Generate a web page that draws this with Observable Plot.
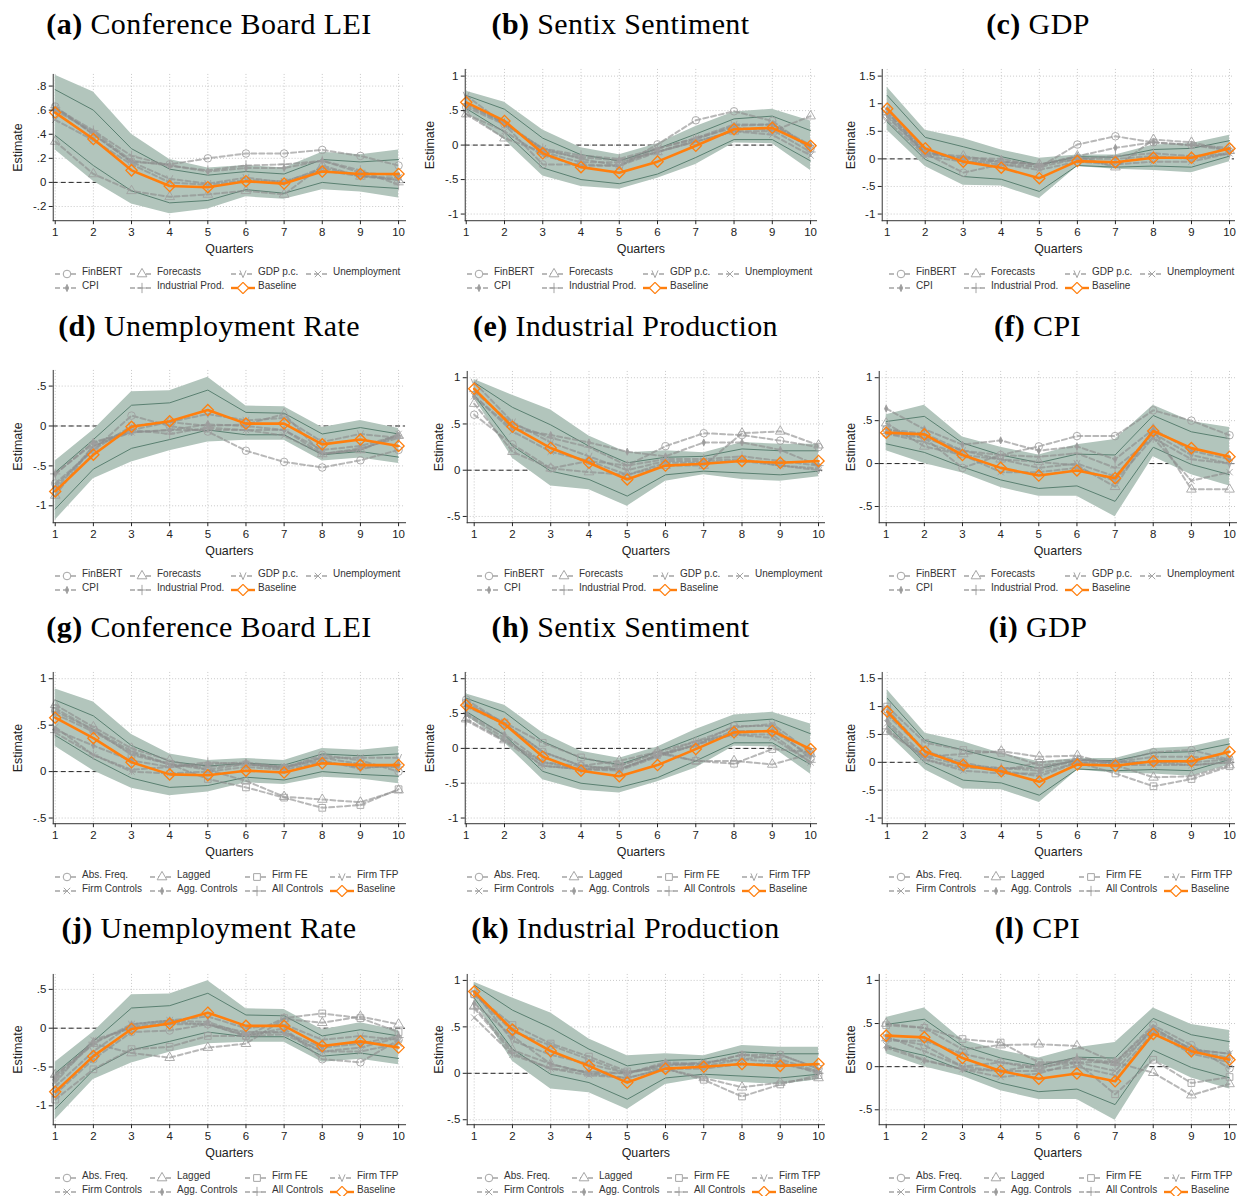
<!DOCTYPE html>
<html><head><meta charset="utf-8">
<script src="https://cdn.jsdelivr.net/npm/d3@7"></script>
<script src="https://cdn.jsdelivr.net/npm/@observablehq/plot@0.6"></script>
<style>
body{margin:0;background:#fff;}
#root{position:relative;width:1238px;height:1196px;overflow:hidden;font-family:"Liberation Sans",Arial,sans-serif;background:#fff;}
.panel{position:absolute;width:412px;height:300px;}
.title{position:absolute;top:8px;white-space:nowrap;font-family:"Liberation Serif","Times New Roman",serif;font-size:30px;letter-spacing:0.4px;line-height:31px;color:#000;transform:translateX(-50%);}
.plotwrap{position:absolute;left:0;top:60px;}
.plotwrap svg{overflow:visible;}
.legsw{position:absolute;width:24px;height:12px;}
.legtx{position:absolute;font-size:10px;line-height:12px;color:#333;white-space:nowrap;}
</style></head><body><div id="root"></div><script>
// ---------- data ----------
const quarters = [1,2,3,4,5,6,7,8,9,10];
const shockNames = ["Conference Board LEI","Sentix Sentiment","GDP","Unemployment Rate","Industrial Production","CPI"];
const panelLetters = ["a","b","c","d","e","f","g","h","i","j","k","l"];
const setA = ["FinBERT","Forecasts","GDP p.c.","Unemployment","CPI","Industrial Prod."];
const setB = ["Abs. Freq.","Lagged","Firm FE","Firm TFP","Firm Controls","Agg. Controls","All Controls"];

const yTicksLEI = [-0.2,0,0.2,0.4,0.6,0.8];
const yTicksWide = [-1,-0.5,0,0.5,1];
const yTicksGDP = [-1,-0.5,0,0.5,1,1.5];
const yTicksUnemp = [-1,-0.5,0,0.5];
const yTicksHalf = [-0.5,0,0.5,1];

// baseline estimates and confidence bands (95% shaded, 90% lines)
const leiBase = [0.58,0.36,0.10,-0.03,-0.04,0.01,-0.01,0.09,0.07,0.07];
const leiHi95 = [0.89,0.75,0.40,0.19,0.12,0.14,0.12,0.25,0.23,0.27];
const leiLo95 = [0.27,0.01,-0.18,-0.26,-0.22,-0.12,-0.14,-0.06,-0.08,-0.13];
const leiHi90 = [0.77,0.60,0.28,0.11,0.06,0.09,0.07,0.19,0.17,0.19];
const leiLo90 = [0.39,0.14,-0.07,-0.17,-0.15,-0.06,-0.09,0.00,-0.03,-0.05];

const sentixBase = [0.62,0.35,-0.12,-0.32,-0.40,-0.24,-0.01,0.23,0.25,-0.01];
const sentixHi95 = [0.78,0.62,0.22,-0.04,-0.14,0.02,0.27,0.48,0.52,0.35];
const sentixLo95 = [0.47,0.08,-0.45,-0.60,-0.64,-0.48,-0.28,0.03,0.02,-0.37];
const sentixHi90 = [0.72,0.52,0.10,-0.14,-0.23,-0.05,0.16,0.38,0.42,0.21];
const sentixLo90 = [0.53,0.19,-0.33,-0.50,-0.56,-0.42,-0.18,0.08,0.08,-0.23];

const gdpBase = [0.91,0.19,-0.05,-0.16,-0.35,-0.04,-0.06,0.02,0.02,0.19];
const gdpHi95 = [1.30,0.52,0.37,0.16,0.01,0.07,0.07,0.25,0.28,0.43];
const gdpLo95 = [0.52,-0.14,-0.48,-0.49,-0.72,-0.14,-0.19,-0.21,-0.25,-0.05];
const gdpHi90 = [1.15,0.39,0.22,0.04,-0.11,0.04,0.03,0.17,0.19,0.33];
const gdpLo90 = [0.67,-0.01,-0.32,-0.37,-0.59,-0.12,-0.15,-0.13,-0.15,0.05];

const unempBase = [-0.82,-0.36,-0.01,0.06,0.20,0.03,0.03,-0.23,-0.17,-0.25];
const unempHi95 = [-0.44,-0.05,0.43,0.44,0.61,0.25,0.24,-0.02,0.07,-0.03];
const unempLo95 = [-1.18,-0.66,-0.45,-0.31,-0.20,-0.18,-0.18,-0.44,-0.40,-0.47];
const unempHi90 = [-0.58,-0.17,0.26,0.29,0.45,0.17,0.16,-0.10,-0.02,-0.10];
const unempLo90 = [-1.04,-0.54,-0.28,-0.17,-0.05,-0.11,-0.11,-0.36,-0.32,-0.39];

const ipBase = [0.88,0.47,0.24,0.08,-0.10,0.05,0.07,0.10,0.08,0.10];
const ipHi95 = [0.98,0.81,0.65,0.37,0.19,0.21,0.19,0.30,0.28,0.28];
const ipLo95 = [0.78,0.13,-0.17,-0.21,-0.39,-0.12,-0.05,-0.10,-0.12,-0.07];
const ipHi90 = [0.95,0.68,0.49,0.26,0.08,0.14,0.15,0.23,0.21,0.21];
const ipLo90 = [0.81,0.26,-0.01,-0.10,-0.28,-0.05,-0.01,-0.03,-0.05,-0.01];

const cpiBase = [0.36,0.34,0.10,-0.05,-0.14,-0.08,-0.17,0.38,0.18,0.08];
const cpiHi95 = [0.57,0.68,0.31,0.19,0.10,0.22,0.28,0.68,0.49,0.42];
const cpiLo95 = [0.15,0.00,-0.11,-0.28,-0.38,-0.38,-0.62,0.08,-0.13,-0.26];
const cpiHi90 = [0.49,0.55,0.24,0.10,0.01,0.11,0.10,0.56,0.37,0.29];
const cpiLo90 = [0.23,0.13,-0.04,-0.19,-0.29,-0.26,-0.44,0.19,-0.01,-0.13];

// robustness set A: FinBERT, Forecasts, GDP p.c., Unemployment, CPI, Industrial Prod.
const robLEI_A = [
 [0.63,0.40,0.17,0.15,0.20,0.24,0.24,0.27,0.22,0.14],
 [0.34,0.07,-0.07,-0.12,-0.10,-0.07,-0.10,0.14,0.05,0.02],
 [0.62,0.40,0.17,0.03,-0.01,0.04,0.00,0.12,0.06,0.02],
 [0.52,0.35,0.15,0.00,-0.02,0.02,0.01,0.10,0.05,0.04],
 [0.60,0.42,0.18,0.14,0.09,0.12,0.12,0.18,0.08,0.06],
 [0.62,0.43,0.22,0.14,0.10,0.14,0.15,0.18,0.10,-0.02]];
const robSentix_A = [
 [0.55,0.30,-0.28,-0.28,-0.30,0.01,0.36,0.49,0.35,-0.05],
 [0.45,0.10,-0.10,-0.25,-0.25,-0.10,0.05,0.20,0.20,0.42],
 [0.72,0.30,-0.05,-0.20,-0.30,-0.05,0.10,0.30,0.30,-0.05],
 [0.45,0.20,-0.15,-0.30,-0.30,-0.10,0.05,0.20,0.15,-0.15],
 [0.58,0.32,-0.08,-0.18,-0.22,-0.10,0.08,0.28,0.30,0.00],
 [0.60,0.32,-0.05,-0.15,-0.20,-0.05,0.10,0.25,0.22,-0.10]];
const robGDP_A = [
 [0.76,0.10,-0.25,-0.10,-0.15,0.26,0.41,0.30,0.25,0.20],
 [0.85,0.10,0.05,-0.05,-0.10,0.05,-0.15,0.35,0.30,0.15],
 [0.90,0.15,-0.05,-0.05,-0.15,0.00,0.00,0.05,0.00,0.10],
 [0.70,0.05,-0.05,-0.10,-0.20,-0.05,-0.10,-0.05,-0.05,0.10],
 [0.80,0.08,0.02,0.00,-0.12,0.05,0.20,0.30,0.25,0.15],
 [0.85,0.12,0.00,-0.05,-0.10,0.00,0.05,0.10,0.05,0.10]];
const robUnemp_A = [
 [-0.72,-0.30,0.13,0.00,-0.07,-0.31,-0.45,-0.52,-0.43,-0.30],
 [-0.87,-0.25,-0.05,0.05,0.00,0.02,0.15,-0.35,-0.30,-0.12],
 [-0.75,-0.30,0.00,0.05,0.15,0.07,0.10,-0.20,-0.10,-0.15],
 [-0.80,-0.25,-0.08,-0.05,-0.05,-0.05,-0.12,-0.35,-0.30,-0.10],
 [-0.60,-0.20,-0.08,-0.05,0.02,0.00,-0.05,-0.30,-0.25,-0.12],
 [-0.60,-0.22,-0.05,-0.10,-0.02,-0.05,-0.05,-0.35,-0.28,-0.15]];
const robIP_A = [
 [0.60,0.28,0.02,0.10,0.05,0.26,0.40,0.38,0.32,0.25],
 [0.72,0.20,0.02,-0.02,-0.05,0.05,0.05,0.40,0.42,0.27],
 [0.95,0.52,0.30,0.15,0.00,0.10,0.10,0.12,0.05,0.00],
 [0.80,0.42,0.20,0.10,-0.05,0.08,0.08,0.10,0.05,0.02],
 [0.80,0.45,0.38,0.30,0.20,0.15,0.30,0.30,0.22,0.05],
 [0.85,0.50,0.35,0.25,0.05,0.12,0.12,0.15,0.10,0.05]];
const robCPI_A = [
 [0.40,0.30,-0.05,0.10,0.20,0.32,0.32,0.62,0.50,0.33],
 [0.47,0.20,0.10,0.05,0.02,-0.02,-0.27,0.40,-0.30,-0.30],
 [0.40,0.35,0.15,0.05,-0.05,0.00,-0.15,0.35,0.10,0.00],
 [0.35,0.25,0.10,-0.10,-0.10,-0.05,-0.20,0.30,-0.20,-0.10],
 [0.64,0.40,0.22,0.27,0.15,0.20,0.05,0.40,0.15,0.05],
 [0.35,0.30,0.15,0.10,0.08,0.12,-0.05,0.30,0.05,0.00]];

// robustness set B: Abs. Freq., Lagged, Firm FE, Firm TFP, Firm Controls, Agg. Controls, All Controls
const robLEI_B = [
 [0.65,0.45,0.22,0.08,0.02,0.08,0.04,0.18,0.12,0.00],
 [0.72,0.48,0.25,0.12,0.02,-0.10,-0.27,-0.30,-0.33,-0.20],
 [0.68,0.45,0.18,0.08,-0.08,-0.17,-0.28,-0.39,-0.36,-0.19],
 [0.62,0.43,0.20,0.08,0.05,0.08,0.05,0.15,0.15,0.15],
 [0.48,0.18,0.00,-0.02,0.00,0.05,0.02,0.10,0.05,0.05],
 [0.45,0.28,0.12,0.05,0.08,0.10,0.05,0.12,0.03,0.08],
 [0.42,0.18,0.02,0.05,0.10,0.08,0.03,0.15,0.08,0.05]];
const robSentix_B = [
 [0.70,0.35,-0.05,-0.25,-0.30,-0.10,0.05,0.32,0.32,-0.15],
 [0.42,0.12,-0.20,-0.25,-0.18,-0.05,-0.18,-0.18,-0.23,-0.08],
 [0.65,0.37,0.08,-0.13,-0.25,-0.07,-0.18,-0.22,-0.01,-0.05],
 [0.60,0.35,-0.05,-0.25,-0.30,-0.10,0.10,0.30,0.35,-0.05],
 [0.48,0.15,-0.25,-0.30,-0.30,-0.10,0.05,0.20,0.15,-0.20],
 [0.50,0.20,-0.20,-0.30,-0.32,-0.12,0.05,0.25,0.25,-0.10],
 [0.40,0.10,-0.25,-0.30,-0.25,-0.05,0.10,0.20,0.20,-0.20]];
const robGDP_B = [
 [0.95,0.20,0.00,-0.15,0.00,0.05,0.00,0.18,0.22,0.05],
 [0.55,0.10,0.15,0.20,0.10,0.12,-0.05,-0.27,-0.25,-0.05],
 [1.00,0.35,0.22,0.17,-0.05,0.00,-0.20,-0.43,-0.30,-0.07],
 [0.85,0.20,-0.05,-0.15,-0.25,0.00,0.00,0.10,0.10,0.05],
 [0.70,0.05,-0.15,-0.20,-0.20,0.00,-0.05,-0.05,-0.05,0.00],
 [0.75,0.10,-0.05,-0.10,-0.15,0.05,0.00,0.00,0.00,0.05],
 [0.60,0.05,-0.10,-0.10,-0.10,0.05,0.00,0.00,-0.05,0.00]];
const robUnemp_B = [
 [-0.85,-0.40,-0.05,-0.03,0.05,-0.10,0.00,-0.40,-0.44,-0.15],
 [-0.60,-0.20,-0.32,-0.38,-0.25,-0.20,0.12,0.07,0.15,0.05],
 [-0.92,-0.53,-0.27,-0.24,-0.10,-0.10,0.13,0.19,0.13,-0.05],
 [-0.75,-0.30,0.05,0.10,0.15,0.00,0.05,-0.15,-0.10,-0.15],
 [-0.70,-0.15,0.00,0.05,0.05,-0.05,-0.05,-0.30,-0.30,-0.20],
 [-0.65,-0.20,0.05,0.10,0.08,-0.08,-0.05,-0.25,-0.20,-0.10],
 [-0.62,-0.18,0.02,0.08,0.05,-0.10,-0.08,-0.30,-0.25,-0.12]];
const robIP_B = [
 [0.85,0.45,0.30,0.15,0.00,0.10,0.10,0.20,0.20,0.05],
 [0.72,0.25,0.10,0.00,-0.05,0.05,-0.05,-0.15,-0.10,-0.05],
 [0.85,0.52,0.32,0.18,0.02,0.05,-0.07,-0.25,-0.12,-0.02],
 [0.88,0.35,0.20,0.10,0.00,0.08,0.12,0.15,0.20,0.05],
 [0.60,0.20,0.05,-0.02,-0.05,0.05,0.05,0.10,0.10,0.02],
 [0.75,0.40,0.10,0.00,0.00,0.12,0.10,0.20,0.15,0.02],
 [0.70,0.22,0.05,0.02,0.00,0.10,0.08,0.15,0.12,0.00]];
const robCPI_B = [
 [0.33,0.25,0.00,0.05,0.00,0.05,0.05,0.48,0.25,-0.02],
 [0.50,0.45,0.20,0.25,0.26,0.24,0.05,-0.07,-0.33,-0.20],
 [0.48,0.45,0.32,0.28,0.05,0.05,-0.32,0.08,-0.19,-0.12],
 [0.35,0.18,0.00,-0.05,-0.05,0.00,-0.10,0.40,0.15,0.05],
 [0.25,0.08,-0.03,-0.12,-0.08,0.05,-0.05,0.45,0.20,0.15],
 [0.22,0.07,-0.03,-0.05,0.02,0.10,0.05,0.45,0.20,0.15],
 [0.30,0.30,0.15,0.05,-0.03,0.10,0.02,0.42,0.20,0.10]];

// ---------- assembly ----------
const shockSeries = [
 [leiBase, leiLo95, leiHi95, leiLo90, leiHi90],
 [sentixBase, sentixLo95, sentixHi95, sentixLo90, sentixHi90],
 [gdpBase, gdpLo95, gdpHi95, gdpLo90, gdpHi90],
 [unempBase, unempLo95, unempHi95, unempLo90, unempHi90],
 [ipBase, ipLo95, ipHi95, ipLo90, ipHi90],
 [cpiBase, cpiLo95, cpiHi95, cpiLo90, cpiHi90]];
const robA = [robLEI_A, robSentix_A, robGDP_A, robUnemp_A, robIP_A, robCPI_A];
const robB = [robLEI_B, robSentix_B, robGDP_B, robUnemp_B, robIP_B, robCPI_B];
const shockTicks = [yTicksLEI, yTicksWide, yTicksGDP, yTicksUnemp, yTicksHalf, yTicksHalf];

// ---------- styling / layout ----------
const ORANGE = "#ff7f0e", BAND = "#b2c5bc", CI90 = "#4f7868", GREY = "#8c8c8c";
const symV = {draw(c,s){const r=Math.sqrt(s/Math.PI); c.moveTo(-0.85*r,-r); c.lineTo(0,r); c.lineTo(0.85*r,-r);}};
const symDia = {draw(c,s){const r=Math.sqrt(s/Math.PI)*1.25; c.moveTo(0,-r); c.lineTo(r,0); c.lineTo(0,r); c.lineTo(-r,0); c.closePath();}};
const symTall = {draw(c,s){const r=Math.sqrt(s/Math.PI); c.moveTo(0,-1.5*r); c.lineTo(0.7*r,0); c.lineTo(0,1.5*r); c.lineTo(-0.7*r,0); c.closePath();}};
const M = {
 circle:{sym:d3.symbolCircle, r:3.8, fill:"none"},
 triangle:{sym:d3.symbolTriangle, r:3.6, fill:"none"},
 square:{sym:d3.symbolSquare, r:3.8, fill:"none"},
 vee:{sym:symV, r:3.6, fill:"none"},
 times:{sym:d3.symbolTimes, r:3.0, fill:"none"},
 tall:{sym:symTall, r:2.4, fill:"#9a9a9a"},
 plus:{sym:d3.symbolPlus, r:3.4, fill:"none"}
};
const markersA = ["circle","triangle","vee","times","tall","plus"];
const markersB = ["circle","triangle","square","vee","times","tall","plus"];

const rowTops = [0,302,603,904];
const geoNarrow = {axisX:53, x1:55, x10:400, right:407, estX:18, legX:55};
const geoB = {axisX:53, x1:54, x10:400, right:406, estX:18, legX:55};
const geoWide = {axisX:58, x1:63, x10:407, right:412, estX:27, legX:65};
const geoShift = {axisX:55, x1:62, x10:408, right:414, estX:27, legX:65};
const layout = [
 {...geoNarrow, top:74, yA:0.8, pA:85.7, yB:-0.2, pB:206.7},
 {...geoB, top:69, yA:1, pA:75.7, yB:-1, pB:214.3},
 {...geoWide, top:69, yA:1.5, pA:75.7, yB:-1, pB:214.3},
 {...geoNarrow, top:68, yA:0.5, pA:83.7, yB:-1, pB:204},
 {...geoShift, top:69, yA:1, pA:75.3, yB:-0.5, pB:214.7},
 {...geoShift, x10:407, top:69, yA:1, pA:75.3, yB:-0.5, pB:204.7},
 {...geoNarrow, top:69, yA:1, pA:75.3, yB:-0.5, pB:215.3, ticks:yTicksHalf},
 {...geoB, top:69, yA:1, pA:75.3, yB:-1, pB:215.3},
 {...geoWide, top:69, yA:1.5, pA:75.3, yB:-1, pB:215.3},
 {...geoNarrow, top:70, yA:0.5, pA:85, yB:-1, pB:202},
 {...geoShift, top:70, yA:1, pA:76, yB:-0.5, pB:216},
 {...geoShift, x10:407, top:70, yA:1, pA:76, yB:-0.5, pB:206}
];
const FRAME_BOTTOM = 221, SVG_TOP = 60, SVG_H = 200, SVG_W = 414;
const fmt = v => v === 0 ? "0" : String(v).replace(/^(-?)0\./, "$1.");

const root = document.getElementById("root");

function swatch(kind, idx, set){
  const svg = d3.create("svg").attr("width",24).attr("height",12);
  if (kind === "base") {
    svg.append("line").attr("x1",0).attr("x2",24).attr("y1",6).attr("y2",6).attr("stroke",ORANGE).attr("stroke-width",2.4);
    svg.append("path").attr("transform","translate(12,6)").attr("d", d3.symbol(symDia, 4.5*4.5*Math.PI)()).attr("fill","white").attr("stroke",ORANGE).attr("stroke-width",1.2);
  } else {
    const m = M[(set==="A"?markersA:markersB)[idx]];
    svg.append("line").attr("x1",0).attr("x2",24).attr("y1",6).attr("y2",6).attr("stroke",GREY).attr("stroke-opacity",0.6).attr("stroke-width",2).attr("stroke-dasharray","5,3");
    svg.append("path").attr("transform","translate(12,6)").attr("d", d3.symbol(m.sym, m.r*m.r*Math.PI)()).attr("fill", m.fill==="none"?"white":m.fill).attr("stroke","#a5a5a5").attr("stroke-width",1);
  }
  return svg.node();
}

layout.forEach((L, i) => {
  const shock = i % 6, set = i < 6 ? "A" : "B";
  const row = Math.floor(i/3), col = i % 3;
  const panel = document.createElement("div");
  panel.className = "panel";
  panel.style.left = (col*412) + "px";
  panel.style.top = rowTops[row] + "px";
  root.appendChild(panel);

  const t = document.createElement("div");
  t.className = "title";
  t.style.left = ((L.axisX + L.right)/2 - 21) + "px";
  t.innerHTML = `<b>(${panelLetters[i]})</b> ${shockNames[shock]}`;
  panel.appendChild(t);

  const [base, lo95, hi95, lo90, hi90] = shockSeries[shock];
  const band = quarters.map((q,j) => ({q, base:base[j], lo95:lo95[j], hi95:hi95[j], lo90:lo90[j], hi90:hi90[j]}));
  const names = set === "A" ? setA : setB;
  const robs = set === "A" ? robA[shock] : robB[shock];
  const markers = set === "A" ? markersA : markersB;
  const yticks = L.ticks || shockTicks[shock];

  const robMarks = [];
  robs.forEach((vals, k) => {
    const rows = quarters.map((q,j) => ({q, v: vals[j], s: names[k]}));
    robMarks.push(Plot.line(rows, {x:"q", y:"v", stroke:GREY, strokeOpacity:0.62, strokeWidth:2, strokeDasharray:"5,3"}));
  });
  robs.forEach((vals, k) => {
    const rows = quarters.map((q,j) => ({q, v: vals[j], s: names[k]}));
    const m = M[markers[k]];
    robMarks.push(Plot.dot(rows, {x:"q", y:"v", symbol:m.sym, r:m.r, fill:m.fill, stroke:"#9f9f9f", strokeOpacity:0.85, strokeWidth:1}));
  });

  const chart = Plot.plot({
    width: SVG_W, height: SVG_H,
    marginLeft: L.axisX, marginRight: SVG_W - L.right,
    marginTop: L.top - SVG_TOP, marginBottom: SVG_H - (FRAME_BOTTOM - SVG_TOP),
    x: {domain:[1,10], range:[L.x1, L.x10]},
    y: {domain:[L.yB, L.yA], range:[L.pB - SVG_TOP, L.pA - SVG_TOP]},
    style: {fontFamily:"Liberation Sans, Arial, sans-serif", fontSize:"11.5px", color:"#222", background:"transparent", overflow:"visible"},
    marks: [
      Plot.ruleY(yticks, {stroke:"#c8c8c8", strokeDasharray:"1,2"}),
      Plot.ruleX(quarters, {stroke:"#c8c8c8", strokeDasharray:"1,2"}),
      Plot.ruleY([0], {stroke:"#222", strokeDasharray:"5,3", strokeWidth:1}),
      Plot.areaY(band, {x:"q", y1:"lo95", y2:"hi95", fill:BAND}),
      Plot.lineY(band, {x:"q", y:"lo90", stroke:CI90, strokeWidth:0.9}),
      Plot.lineY(band, {x:"q", y:"hi90", stroke:CI90, strokeWidth:0.9}),
      ...robMarks,
      Plot.line(band, {x:"q", y:"base", stroke:ORANGE, strokeWidth:2.6}),
      Plot.dot(band, {x:"q", y:"base", symbol:symDia, r:4.5, stroke:ORANGE, fill:"none", strokeWidth:1.3}),
      Plot.axisY({ticks:yticks, tickFormat:fmt, tickSize:4, tickPadding:3, label:null}),
      Plot.axisX({ticks:quarters, tickSize:4, tickPadding:3, label:null}),
      Plot.frame({anchor:"left", stroke:"#333"}),
      Plot.frame({anchor:"bottom", stroke:"#333"}),
      Plot.text(["Estimate"], {frameAnchor:"left", textAnchor:"middle", lineAnchor:"middle", dx: L.estX - L.axisX, rotate:-90, fontSize:12.5, fill:"#222"}),
      Plot.text(["Quarters"], {frameAnchor:"bottom", textAnchor:"middle", lineAnchor:"middle", dy:28, fontSize:12.5, fill:"#222"})
    ]
  });
  const wrap = document.createElement("div");
  wrap.className = "plotwrap";
  wrap.appendChild(chart);
  panel.appendChild(wrap);

  // legend
  const offs = set === "A" ? [27,102,203,278] : [27,122,217,302];
  const legRows = set === "A" ? [[0,1,2,3],[4,5,"base"]] : [[0,1,2,3],[4,5,6,"base"]];
  const legY = [271.5, 285.5];
  legRows.forEach((r, ri) => {
    r.forEach((item, ci) => {
      const tx = L.legX + offs[ci];
      const sw = document.createElement("div");
      sw.className = "legsw";
      sw.style.left = (tx - 27) + "px";
      sw.style.top = (legY[ri] - 6) + "px";
      sw.appendChild(item === "base" ? swatch("base") : swatch("rob", item, set));
      panel.appendChild(sw);
      const lt = document.createElement("div");
      lt.className = "legtx";
      lt.style.left = tx + "px";
      lt.style.top = (legY[ri] - 6) + "px";
      lt.textContent = item === "base" ? "Baseline" : names[item];
      panel.appendChild(lt);
    });
  });
});
</script></body></html>
